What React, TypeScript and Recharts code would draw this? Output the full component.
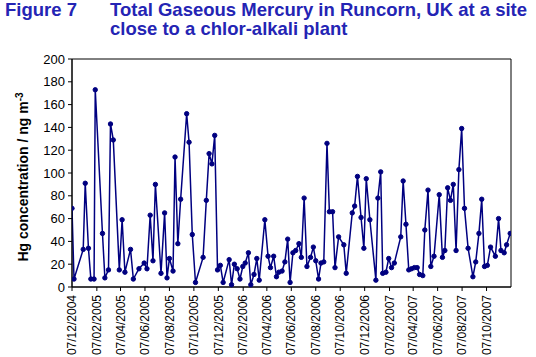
import React from 'react';
import { LineChart, Line, XAxis, YAxis, ReferenceArea } from 'recharts';

// Sampling day offsets (days after 07/12/2004)
const sampleDays = [
  0, 5, 28, 33, 41, 47, 55, 58, 76, 82, 91, 96, 103, 118, 125, 132, 146, 153, 167, 180,
  187, 195, 202, 208, 222, 231, 237, 243, 252, 257, 264, 271, 286, 292, 300, 308, 327, 335, 342, 349,
  356, 363, 370, 377, 392, 398, 405, 412, 419, 426, 432, 440, 446, 454, 461, 467, 481, 489, 495, 503,
  510, 516, 524, 531, 538, 544, 551, 558, 566, 572, 579, 586, 595, 602, 608, 615, 621, 628, 636, 642,
  650, 656, 665, 678, 684, 699, 705, 712, 721, 728, 734, 743, 758, 763, 770, 775, 783, 790, 797, 804,
  820, 826, 833, 840, 847, 854, 861, 867, 875, 880, 888, 895, 903, 916, 924, 930, 937, 944, 951, 958,
  965, 972, 979, 988, 1000, 1007, 1015, 1022, 1029, 1036, 1044, 1056, 1064, 1070, 1078, 1084, 1093,
];

// Total gaseous mercury, ng m-3
const tgmValues = [
  69, 7, 33, 91, 34, 7, 7, 173, 47, 8, 15, 143, 129, 15, 59, 13, 33, 7, 16, 21,
  16, 63, 23, 90, 12, 65, 8, 25, 14, 114, 38, 77, 152, 127, 46, 4, 26, 76, 117, 108,
  133, 15, 19, 4, 24, 2, 20, 16, 7, 18, 21, 30, 2, 11, 25, 6, 59, 27, 17, 27,
  9, 13, 14, 22, 42, 4, 30, 32, 38, 26, 78, 18, 26, 35, 23, 7, 21, 22, 126, 66,
  66, 17, 44, 37, 12, 65, 71, 97, 61, 34, 95, 59, 6, 78, 101, 12, 13, 25, 17, 21,
  44, 93, 55, 15, 16, 17, 17, 11, 10, 50, 85, 18, 27, 81, 26, 32, 87, 76, 90, 32,
  103, 139, 69, 34, 9, 22, 47, 77, 18, 19, 35, 27, 60, 32, 30, 37, 47,
];

const xTickLabels = [
  '07/12/2004', '07/02/2005', '07/04/2005', '07/06/2005', '07/08/2005', '07/10/2005',
  '07/12/2005', '07/02/2006', '07/04/2006', '07/06/2006', '07/08/2006', '07/10/2006',
  '07/12/2006', '07/02/2007', '07/04/2007', '07/06/2007', '07/08/2007', '07/10/2007',
];
const axisEndLabel = '07/12/2007';
const yTicks = [0, 20, 40, 60, 80, 100, 120, 140, 160, 180, 200];

const parseDate = (s: string) => {
  const [d, m, y] = s.split('/').map(Number);
  return Date.UTC(y, m - 1, d);
};
const DAY = 86400000;
const startMs = parseDate(xTickLabels[0]);
const toDay = (s: string) => Math.round((parseDate(s) - startMs) / DAY);
const xTicks = xTickLabels.map(toDay);
const endDay = toDay(axisEndLabel);
const labelByDay: Record<number, string> = {};
xTickLabels.forEach((l, i) => (labelByDay[xTicks[i]] = l));

const data = sampleDays.map((d, i) => ({ day: d, hg: tgmValues[i] }));

const FONT = '"Liberation Sans", Arial, sans-serif';
const TITLE_COLOR = '#2424b4';

const XTick = (props: any) => {
  const { x, y, payload } = props;
  return (
    <text
      x={x}
      y={y}
      transform={`rotate(-90 ${x} ${y})`}
      textAnchor="end"
      dy="0.35em"
      fontSize={12}
      fontFamily={FONT}
      fill="#000"
    >
      {labelByDay[payload.value]}
    </text>
  );
};

export default function App() {
  return (
    <div style={{ position: 'absolute', left: 0, top: 0, width: 536, height: 357, background: '#fff', fontFamily: FONT }}>
      <div style={{ position: 'absolute', left: 5, top: 0, fontSize: 18.5, fontWeight: 'bold', color: TITLE_COLOR, lineHeight: '19px' }}>
        Figure 7
      </div>
      <div style={{ position: 'absolute', left: 110, top: 0, fontSize: 18.5, fontWeight: 'bold', color: TITLE_COLOR, lineHeight: '19px', whiteSpace: 'nowrap' }}>
        Total Gaseous Mercury in Runcorn, UK at a site
        <br />
        close to a chlor-alkali plant
      </div>
      <LineChart
        width={536}
        height={357}
        data={data}
        margin={{ top: 59, right: 25, bottom: 0, left: 0 }}
        style={{ position: 'absolute', left: 0, top: 0 }}
      >
        <XAxis
          dataKey="day"
          type="number"
          domain={[0, endDay]}
          ticks={xTicks}
          interval={0}
          height={70}
          tickSize={4}
          tickMargin={4}
          axisLine={{ stroke: '#000' }}
          tickLine={{ stroke: '#000' }}
          tick={<XTick />}
          allowDataOverflow
        />
        <YAxis
          type="number"
          domain={[0, 200]}
          ticks={yTicks}
          interval={0}
          width={72}
          tickSize={4}
          tickMargin={3}
          axisLine={{ stroke: '#000' }}
          tickLine={{ stroke: '#000' }}
          tick={{ fontSize: 13, fill: '#000', fontFamily: FONT }}
        />
        <ReferenceArea x1={0} x2={endDay} y1={0} y2={200} fill="none" fillOpacity={0} stroke="#000" strokeWidth={1} ifOverflow="visible" />
        <Line
          type="linear"
          dataKey="hg"
          stroke="#000080"
          strokeWidth={1.5}
          dot={{ r: 2.2, fill: '#000080', stroke: '#000080', strokeWidth: 1 }}
          isAnimationActive={false}
        />
      </LineChart>
      <svg width={536} height={357} style={{ position: 'absolute', left: 0, top: 0, pointerEvents: 'none' }}>
        <text
          transform="translate(28 177) rotate(-90)"
          textAnchor="middle"
          fontSize={14}
          fontWeight="bold"
          fontFamily={FONT}
          fill="#000"
        >
          Hg concentration / ng m
          <tspan dy={-5} fontSize={10}>-3</tspan>
        </text>
      </svg>
    </div>
  );
}
